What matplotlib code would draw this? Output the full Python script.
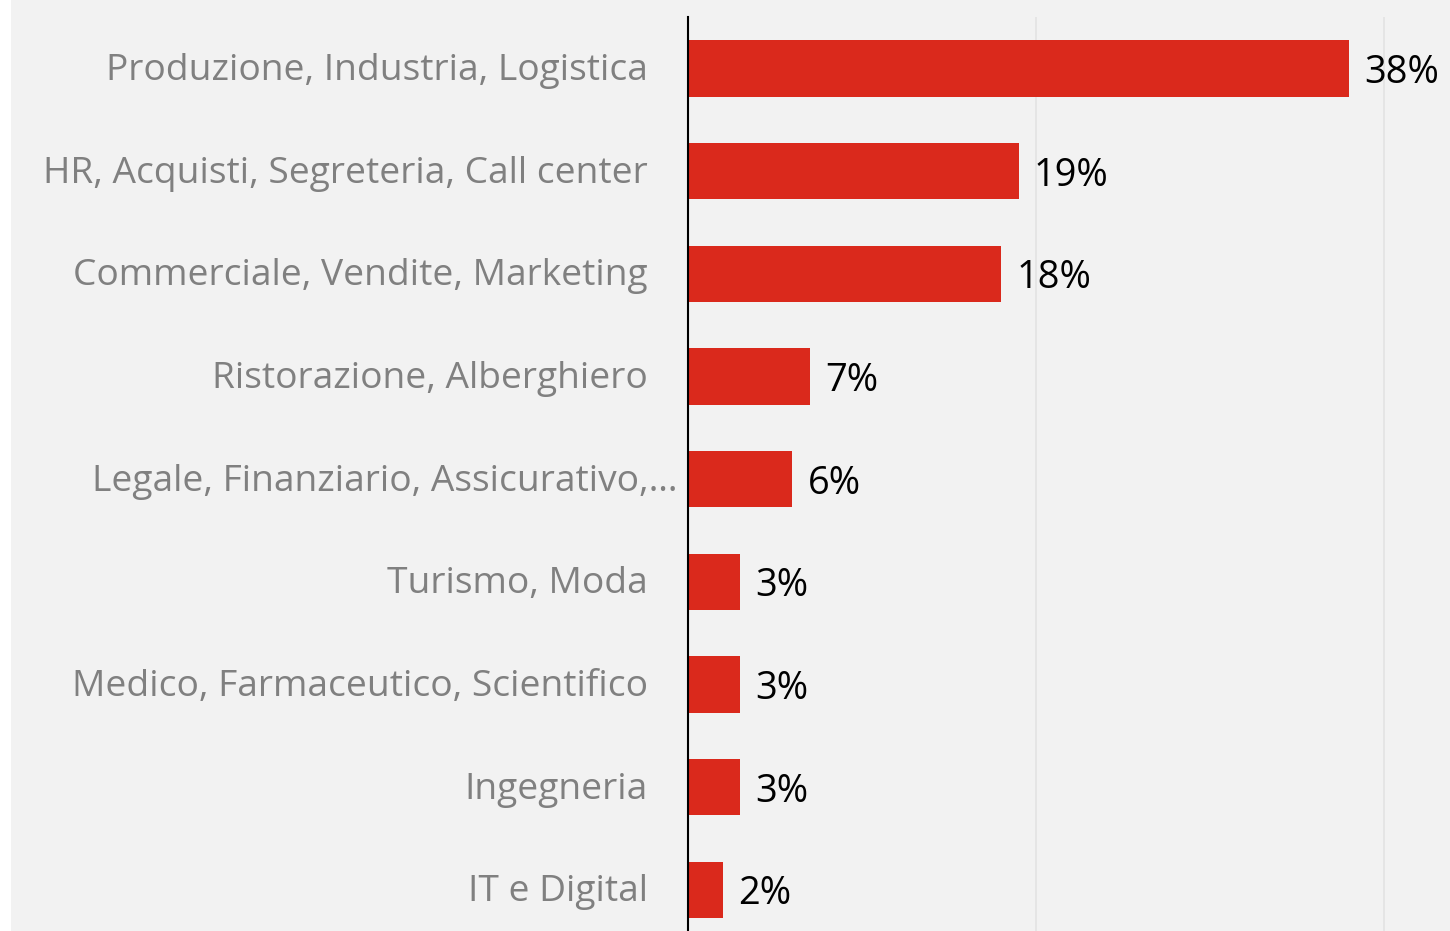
import matplotlib.pyplot as plt
import matplotlib.transforms as mtransforms

categories = [
    "Produzione, Industria, Logistica",
    "HR, Acquisti, Segreteria, Call center",
    "Commerciale, Vendite, Marketing",
    "Ristorazione, Alberghiero",
    "Legale, Finanziario, Assicurativo,…",
    "Turismo, Moda",
    "Medico, Farmaceutico, Scientifico",
    "Ingegneria",
    "IT e Digital",
]
values = [38, 19, 18, 7, 6, 3, 3, 3, 2]
value_labels = ["38%", "19%", "18%", "7%", "6%", "3%", "3%", "3%", "2%"]

BG = "#f2f2f2"
RED = "#da291c"
GRAY = "#808080"
FONT = "Open Sans"

W, H = 1450, 931
fig = plt.figure(figsize=(W / 100, H / 100), dpi=100)
fig.patch.set_facecolor(BG)

# white strip on the left like the source screenshot
fig.patches.append(plt.Rectangle((0, 0), 11 / W, 1, transform=fig.transFigure,
                                 facecolor="white", edgecolor="none", zorder=-10))

px_per_unit = 17.4
x0 = 688
top = 17
band = 102.7
ax_h = band * len(categories)
ax = fig.add_axes([x0 / W, 1 - (top + ax_h) / H, (W - x0) / W, ax_h / H])
ax.set_facecolor("none")

y = list(range(len(categories)))
ax.barh(y, values, height=0.55, color=RED, zorder=3)
ax.set_xlim(0, (W - x0) / px_per_unit)
ax.set_ylim(len(categories) - 0.5, -0.5)

ax.set_xticks([20, 40])
ax.xaxis.grid(True, color="#e3e3e3", linewidth=1.2, zorder=0)
ax.tick_params(axis="x", bottom=False, labelbottom=False)

ax.set_yticks(y)
ax.set_yticklabels(categories, fontsize=26.7, color=GRAY, family=FONT)
ax.tick_params(axis="y", length=0, pad=28.8)
shift_up = mtransforms.ScaledTranslation(0, 2 / 100, fig.dpi_scale_trans)
for i, lbl in enumerate(ax.get_yticklabels()):
    tr = lbl.get_transform() + shift_up
    # the truncated label in the source runs past the others
    if i == 4:
        tr = tr + mtransforms.ScaledTranslation(30 / 100, 0, fig.dpi_scale_trans)
    lbl.set_transform(tr)

for s in ["top", "right", "bottom"]:
    ax.spines[s].set_visible(False)
ax.spines["left"].set_color("black")
ax.spines["left"].set_linewidth(1.5)
ax.spines["left"].set_zorder(4)

for yi, v, t in zip(y, values, value_labels):
    ax.annotate(t, (v, yi), xytext=(15, 0), textcoords="offset pixels",
                ha="left", va="center_baseline", fontsize=27.4, color="black", family=FONT)

fig.savefig("out.png", dpi=100, facecolor=fig.get_facecolor())
